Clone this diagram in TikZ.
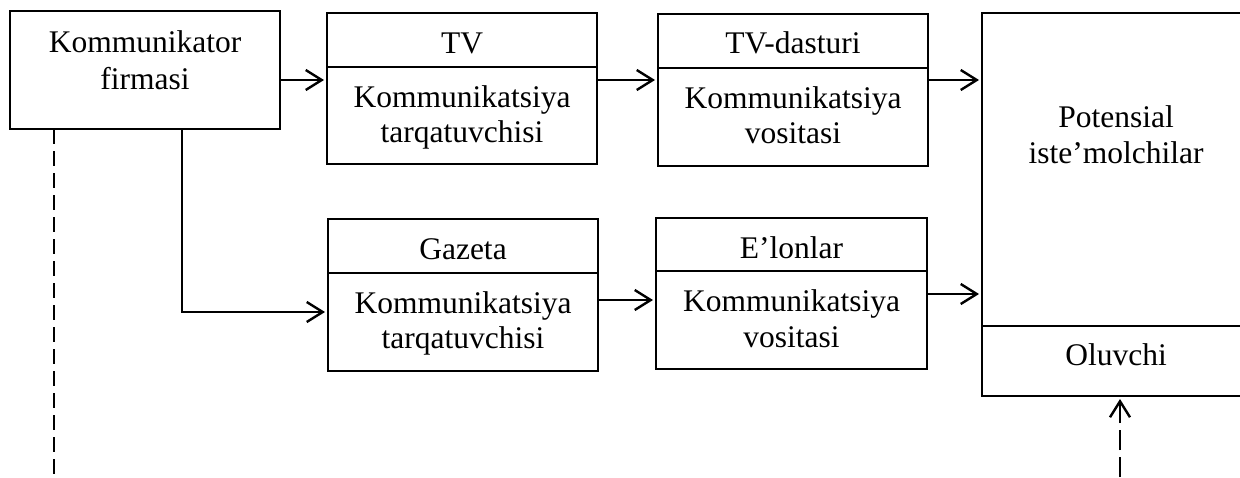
\documentclass[tikz,border=0pt]{standalone}
\usepackage{fontspec}
\setmainfont{Liberation Serif}
\usetikzlibrary{arrows.meta}
\begin{document}
\begin{tikzpicture}[x=1pt,y=-1pt,
  box/.style={draw, line width=1.6pt, rectangle, inner sep=0pt, outer sep=0pt, anchor=north west},
  txt/.style={anchor=base, inner sep=0pt, font=\fontsize{31.5}{35}\selectfont},
  arr/.style={line width=2.4pt, -{Straight Barb[length=16pt,width=20pt]}, shorten >=3pt},
  dsh/.style={line width=2.4pt, dash pattern=on 15pt off 7pt}]
\useasboundingbox (0,0) rectangle (1240,477);
% boxes
\node[box, minimum width=270pt, minimum height=118pt] (kf) at (10,11) {};
\node[box, minimum width=270pt, minimum height=54pt] (tvh) at (327,13) {};
\node[box, minimum width=270pt, minimum height=97pt] (tvb) at (327,67) {};
\node[box, minimum width=270pt, minimum height=54pt] (tdh) at (658,14) {};
\node[box, minimum width=270pt, minimum height=98pt] (tdb) at (658,68) {};
\node[box, minimum width=270pt, minimum height=54pt] (gzh) at (328,219) {};
\node[box, minimum width=270pt, minimum height=98pt] (gzb) at (328,273) {};
\node[box, minimum width=271pt, minimum height=53pt] (elh) at (656,218) {};
\node[box, minimum width=271pt, minimum height=98pt] (elb) at (656,271) {};
\node[box, minimum width=268pt, minimum height=313pt] (pi) at (982,13) {};
\node[box, minimum width=268pt, minimum height=70pt] (ol) at (982,326) {};
% texts
\node[txt] (t1a) at (145,52) {Kommunikator};
\node[txt] (t1b) at (145,89) {firmasi};
\node[txt] (t2) at (462,53) {TV};
\node[txt] (t2a) at (462,107) {Kommunikatsiya};
\node[txt] (t2b) at (462,142) {tarqatuvchisi};
\node[txt] (t3) at (793,53) {TV-dasturi};
\node[txt] (t3a) at (793,108) {Kommunikatsiya};
\node[txt] (t3b) at (793,143) {vositasi};
\node[txt] (t4) at (463,259) {Gazeta};
\node[txt] (t4a) at (463,313) {Kommunikatsiya};
\node[txt] (t4b) at (463,348) {tarqatuvchisi};
\node[txt] (t5) at (791.5,258) {E’lonlar};
\node[txt] (t5a) at (791.5,311) {Kommunikatsiya};
\node[txt] (t5b) at (791.5,347) {vositasi};
\node[txt] (t6a) at (1116,127) {Potensial};
\node[txt] (t6b) at (1116,163) {iste’molchilar};
\node[txt] (t7) at (1116,365) {Oluvchi};
% connectors
\coordinate (r1) at (0,80);
\draw[arr] (kf.east |- r1) -- (tvb.west |- r1);
\draw[arr] (tvb.east |- r1) -- (tdb.west |- r1);
\draw[arr] (tdb.east |- r1) -- (pi.west |- r1);
\coordinate (j) at (182,312);
\draw[arr] (kf.south -| j) -- (j) -- (gzb.west |- j);
\coordinate (r2) at (0,300);
\draw[arr] (gzb.east |- r2) -- (elb.west |- r2);
\coordinate (r3) at (0,294);
\draw[arr] (elb.east |- r3) -- (pi.west |- r3);
\coordinate (d1) at (54,480);
\draw[dsh] (kf.south -| d1) -- (d1);
\coordinate (d2) at (1120,477);
\draw[dsh, arr, dash pattern=on 20pt off 7pt] (d2) -- (ol.south -| d2);
\end{tikzpicture}
\end{document}
